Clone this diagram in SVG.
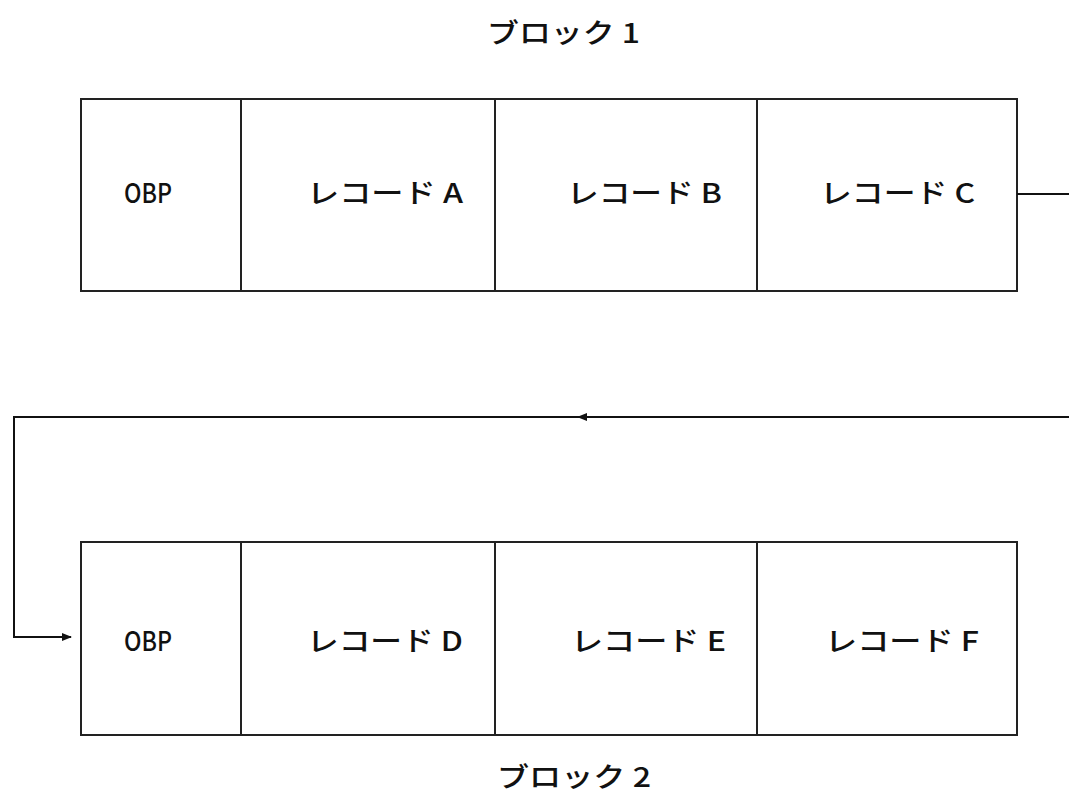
<svg xmlns="http://www.w3.org/2000/svg" width="1069" height="795" viewBox="0 0 1069 795">
<style>
.box{fill:#fff;stroke:#222;stroke-width:2}
.div{stroke:#222;stroke-width:2}
.t{font-family:"Noto Sans CJK JP","Noto Sans",sans-serif;font-size:27px;font-weight:500;fill:#111}
.c{stroke:#111;stroke-width:2;fill:none}
</style>
<defs>
<marker id="ah" markerWidth="10" markerHeight="10" refX="9" refY="5" orient="auto" markerUnits="userSpaceOnUse">
<path d="M0,1 L10,5 L0,9 Z" fill="#111"/>
</marker>
</defs>
<rect width="1069" height="795" fill="#fff"/>
<g id="title1"><text class="t" x="487" y="43" textLength="153" lengthAdjust="spacingAndGlyphs">ブロック 1</text></g>
<g id="block1">
<rect class="box" x="81" y="99" width="936" height="192"/>
<line class="div" x1="241" y1="99" x2="241" y2="291"/>
<line class="div" x1="495" y1="99" x2="495" y2="291"/>
<line class="div" x1="757" y1="99" x2="757" y2="291"/>
</g>
<g id="obp1"><text class="t" x="124" y="203" textLength="48" lengthAdjust="spacingAndGlyphs">OBP</text></g>
<g id="recA"><text class="t" x="307" y="203" textLength="156" lengthAdjust="spacingAndGlyphs">レコード A</text></g>
<g id="recB"><text class="t" x="567" y="203" textLength="155" lengthAdjust="spacingAndGlyphs">レコード B</text></g>
<g id="recC"><text class="t" x="820" y="203" textLength="155" lengthAdjust="spacingAndGlyphs">レコード C</text></g>
<g id="block2">
<rect class="box" x="81" y="542" width="936" height="193"/>
<line class="div" x1="241" y1="542" x2="241" y2="735"/>
<line class="div" x1="495" y1="542" x2="495" y2="735"/>
<line class="div" x1="757" y1="542" x2="757" y2="735"/>
</g>
<g id="obp2"><text class="t" x="124" y="651" textLength="48" lengthAdjust="spacingAndGlyphs">OBP</text></g>
<g id="recD"><text class="t" x="307" y="651" textLength="156" lengthAdjust="spacingAndGlyphs">レコード D</text></g>
<g id="recE"><text class="t" x="571" y="651" textLength="155" lengthAdjust="spacingAndGlyphs">レコード E</text></g>
<g id="recF"><text class="t" x="825" y="651" textLength="154" lengthAdjust="spacingAndGlyphs">レコード F</text></g>
<g id="title2"><text class="t" x="497" y="787" textLength="154" lengthAdjust="spacingAndGlyphs">ブロック 2</text></g>
<g id="connectors">
<line class="c" x1="1017" y1="194" x2="1069" y2="194"/>
<line class="c" x1="1069" y1="417" x2="578" y2="417" marker-end="url(#ah)"/>
<polyline class="c" points="580,417 14,417 14,637 71,637" marker-end="url(#ah)"/>
</g>
</svg>
